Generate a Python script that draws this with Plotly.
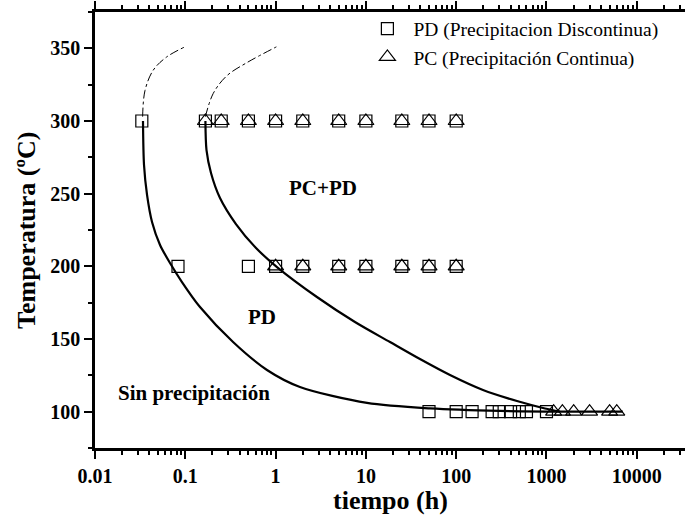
import numpy as np
import plotly.graph_objects as go

# ---- data ----
# Discontinuous precipitation (squares) observations, time in hours
pd_t_300 = [0.033, 0.167, 0.25, 0.5, 1, 2, 5, 10, 25, 50, 100]
pd_t_200 = [0.083, 0.5, 1, 2, 5, 10, 25, 50, 100]
pd_t_100 = [50, 100, 150, 250, 300, 400, 500, 600, 1000]
# Continuous precipitation (triangles)
pc_t_300 = [0.167, 0.25, 0.5, 1, 2, 5, 10, 25, 50, 100]
pc_t_200 = [1, 2, 5, 10, 25, 50, 100]
pc_t_100 = [1200, 1500, 2000, 3000, 5000, 6000]

# Boundary curves (time h, temperature C)
c1_t = [0.034, 0.0349, 0.0377, 0.0428, 0.0525, 0.0677, 0.0919, 0.1455, 0.338, 0.803, 1.86, 10.3, 51.3, 305, 2350, 7000]
c1_T = [300, 269.7, 249.1, 230.5, 214.7, 202.3, 189.2, 172.0, 147.9, 128.7, 117.0, 106.0, 102.2, 100.5, 100, 100]
c2_t = [0.167, 0.1717, 0.1926, 0.2423, 0.364, 0.607, 1.036, 2.87, 7.57, 18.5, 39.7, 85.4, 198, 471, 962, 1410]
c2_T = [300, 280.0, 264.2, 247.0, 229.1, 212.6, 199.5, 178.9, 161.7, 147.9, 136.2, 125.2, 114.9, 107.3, 102.2, 100]
# dash-dot extrapolations
e1_t = [0.0337, 0.0358, 0.0442, 0.062, 0.099]
e1_T = [303, 321, 335, 344, 351]
e2_t = [0.167, 0.204, 0.287, 0.476, 1.02]
e2_T = [303, 319, 331, 340, 351]

# region labels
lab_text = ["PC+PD", "PD", "Sin precipitación"]
lab_t = [3.35, 0.706, 0.125]
lab_T = [254, 165, 113]

x_tickvals = [0.01, 0.1, 1, 10, 100, 1000, 10000]
x_ticktext = ["0.01", "0.1", "1", "10", "100", "1000", "10000"]
y_tickvals = [100, 150, 200, 250, 300, 350]

SERIF = "Liberation Serif, Times New Roman, serif"

fig = go.Figure()

for tx, ty in [(c1_t, c1_T), (c2_t, c2_T)]:
    fig.add_trace(go.Scatter(x=tx, y=ty, mode="lines", showlegend=False,
                             line=dict(color="black", width=2.2, shape="spline", smoothing=0.8),
                             hoverinfo="skip"))
for tx, ty in [(e1_t, e1_T), (e2_t, e2_T)]:
    fig.add_trace(go.Scatter(x=tx, y=ty, mode="lines", showlegend=False,
                             line=dict(color="black", width=1, dash="dashdot", shape="spline"),
                             hoverinfo="skip"))

pd_x = pd_t_300 + pd_t_200 + pd_t_100
pd_y = [300] * len(pd_t_300) + [200] * len(pd_t_200) + [100] * len(pd_t_100)
pc_x = pc_t_300 + pc_t_200 + pc_t_100
pc_y = [300] * len(pc_t_300) + [200] * len(pc_t_200) + [100] * len(pc_t_100)

fig.add_trace(go.Scatter(x=pd_x, y=pd_y, mode="markers", name="PD (Precipitacion Discontinua)",
                         marker=dict(symbol="square-open", size=12, color="black",
                                     line=dict(width=1.2, color="black"))))
fig.add_trace(go.Scatter(x=pc_x, y=pc_y, mode="markers", name="PC (Precipitación Continua)",
                         marker=dict(symbol="triangle-up-open", size=14, color="black",
                                     line=dict(width=1.2, color="black"))))

for txt, tx, ty in zip(lab_text, lab_t, lab_T):
    fig.add_annotation(x=np.log10(tx), y=ty, text=txt, showarrow=False,
                       font=dict(family=SERIF, size=21, color="black", weight="bold"))

# axis titles as annotations for exact placement
fig.add_annotation(xref="paper", yref="paper", x=0.5, y=0, yanchor="middle", yshift=-52,
                   text="tiempo (h)", showarrow=False,
                   font=dict(family=SERIF, size=26, color="black", weight="bold"))
fig.add_annotation(xref="paper", yref="paper", x=0, y=0.5, xanchor="center", xshift=-69,
                   text="Temperatura (ºC)", textangle=-90, showarrow=False,
                   font=dict(family=SERIF, size=26, color="black", weight="bold"))

fig.update_layout(
    width=685, height=520,
    margin=dict(l=95, r=0, t=12, b=72, autoexpand=False),
    paper_bgcolor="white", plot_bgcolor="white",
    font=dict(family=SERIF, color="black"),
    legend=dict(x=0.4515, y=1.006, xanchor="left", yanchor="top",
                font=dict(family=SERIF, size=19.5, color="black"),
                bgcolor="rgba(0,0,0,0)", tracegroupgap=0, itemwidth=42),
    xaxis=dict(type="log", range=[-2, 4.534], showgrid=False, zeroline=False, automargin=False,
               showline=True, linewidth=2.5, linecolor="black", mirror="ticks",
               ticks="outside", ticklen=8, tickwidth=2, tickcolor="black",
               tickvals=x_tickvals, ticktext=x_ticktext,
               tickfont=dict(family=SERIF, size=20, color="black", weight="bold"),
               minor=dict(ticks="outside", ticklen=4, tickwidth=1.5, tickcolor="black", dtick="D1")),
    yaxis=dict(range=[75, 375], showgrid=False, zeroline=False, automargin=False,
               showline=True, linewidth=2.5, linecolor="black",
               ticks="outside", ticklen=8, tickwidth=2, tickcolor="black",
               tickvals=y_tickvals,
               tickfont=dict(family=SERIF, size=20, color="black", weight="bold"),
               minor=dict(ticks="outside", ticklen=4, tickwidth=1.5, tickcolor="black", dtick=25)),
)

fig.write_html("out.html", config={"displayModeBar": False},
               post_script="document.body.style.margin='0px';")
